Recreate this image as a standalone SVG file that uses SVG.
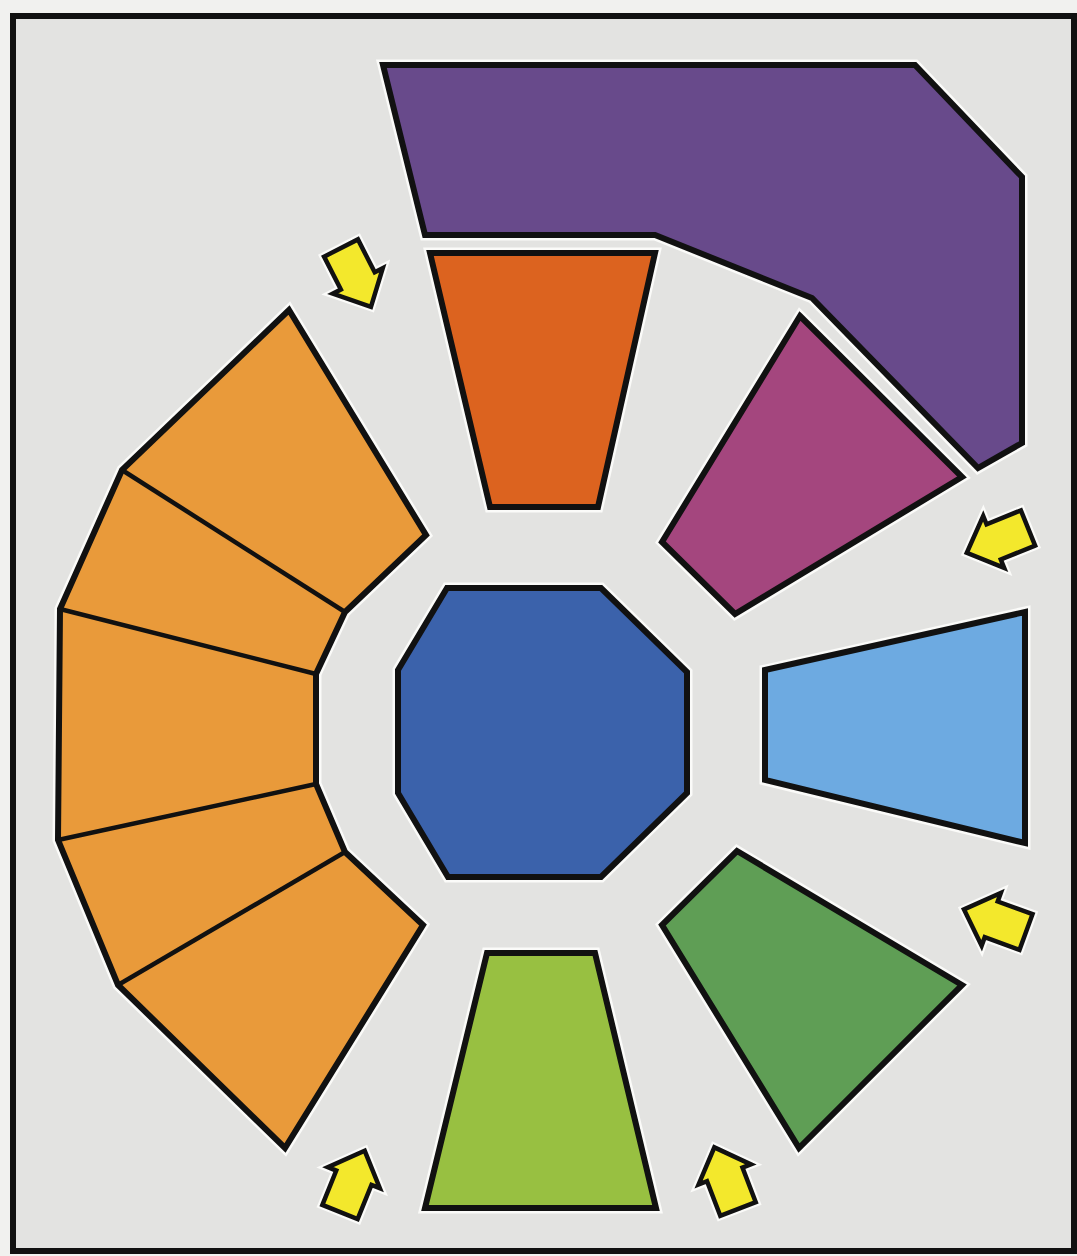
<svg xmlns="http://www.w3.org/2000/svg" xmlns:xlink="http://www.w3.org/1999/xlink" width="1077" height="1256" viewBox="0 0 1077 1256">
<style>
.halo{fill:none;stroke:#fbfbf9;stroke-width:11;stroke-linejoin:miter}
.sh{stroke:#111;stroke-width:6;stroke-linejoin:miter}
.seg{stroke:#111;stroke-width:4.5;stroke-linejoin:miter}
.arrow{fill:#f3e82c;stroke:#111;stroke-width:4.5;stroke-linejoin:miter}
.arrowhalo{fill:none;stroke:#fbfbf9;stroke-width:9;stroke-linejoin:miter}
</style>
<defs>
<polygon id="arr" points="0,-19 37,-19 37,-28 66,0 37,28 37,19 0,19"/>
<polygon id="pPurple" points="383,65 915,65 1022,177 1022,443 978,468 812,298 655,235 425,235"/>
<polygon id="pRed" points="430,253 655,253 598,507 490,507"/>
<polygon id="pMagenta" points="800,316 962,477 735,614 662,542"/>
<polygon id="pLightBlue" points="765,670 1025,612 1025,843 765,780"/>
<polygon id="pGreen" points="737,851 962,985 799,1148 662,925"/>
<polygon id="pLime" points="487,953 595,953 656,1208 425,1208"/>
<polygon id="pBlue" points="447,588 601,588 687,672 687,793 601,877 448,877 398,793 398,670"/>
<polygon id="pOrange" points="289,310 426,535 345,612 316,674 316,784 345,852 423,925 285,1148 118,985 58,840 60,609 122,470"/>
</defs>
<rect x="0" y="0" width="1077" height="1256" fill="#f1f1ef"/>
<rect x="13" y="16" width="1061" height="1235" fill="#e3e3e1" stroke="#111" stroke-width="6"/>
<g id="purple"><use xlink:href="#pPurple" class="halo"/><use xlink:href="#pPurple" class="sh" fill="#684a8b"/></g>
<g id="red-orange"><use xlink:href="#pRed" class="halo"/><use xlink:href="#pRed" class="sh" fill="#dc631f"/></g>
<g id="magenta"><use xlink:href="#pMagenta" class="halo"/><use xlink:href="#pMagenta" class="sh" fill="#a4467e"/></g>
<g id="light-blue"><use xlink:href="#pLightBlue" class="halo"/><use xlink:href="#pLightBlue" class="sh" fill="#6daae1"/></g>
<g id="green"><use xlink:href="#pGreen" class="halo"/><use xlink:href="#pGreen" class="sh" fill="#5f9e55"/></g>
<g id="lime"><use xlink:href="#pLime" class="halo"/><use xlink:href="#pLime" class="sh" fill="#98c041"/></g>
<g id="blue"><use xlink:href="#pBlue" class="halo"/><use xlink:href="#pBlue" class="sh" fill="#3b62ab"/></g>
<g id="orange-fan">
<use xlink:href="#pOrange" class="halo"/>
<use xlink:href="#pOrange" class="sh" fill="#e99a3a"/>
<g class="seg" fill="none">
<line x1="122" y1="470" x2="345" y2="612"/>
<line x1="60" y1="609" x2="316" y2="674"/>
<line x1="58" y1="840" x2="316" y2="784"/>
<line x1="118" y1="985" x2="345" y2="852"/>
</g>
</g>
<g id="connectors">
<g transform="translate(341,248) rotate(63)"><use xlink:href="#arr" class="arrowhalo"/><use xlink:href="#arr" class="arrow"/></g>
<g transform="translate(1028,528) rotate(158)"><use xlink:href="#arr" class="arrowhalo"/><use xlink:href="#arr" class="arrow"/></g>
<g transform="translate(1026,932) rotate(200)"><use xlink:href="#arr" class="arrowhalo"/><use xlink:href="#arr" class="arrow"/></g>
<g transform="translate(340,1212) rotate(-68)"><use xlink:href="#arr" class="arrowhalo"/><use xlink:href="#arr" class="arrow"/></g>
<g transform="translate(738,1209) rotate(-111)"><use xlink:href="#arr" class="arrowhalo"/><use xlink:href="#arr" class="arrow"/></g>
</g>
</svg>
